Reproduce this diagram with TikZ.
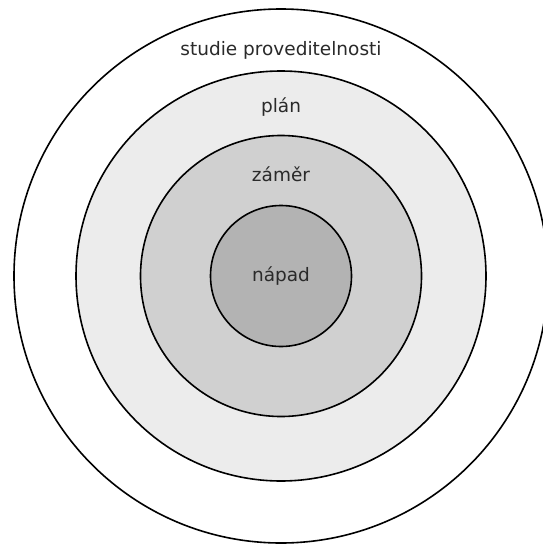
\documentclass[tikz,border=0pt]{standalone}
\usepackage{fontspec}
\setmainfont{DejaVu Sans}
\usetikzlibrary{positioning}

\definecolor{ringA}{HTML}{ECECEC}
\definecolor{ringB}{HTML}{D0D0D0}
\definecolor{ringC}{HTML}{B3B3B3}
\definecolor{labeltext}{HTML}{2A2A2A}

\begin{document}
\begin{tikzpicture}
[x=1pt,y=-1pt,on grid,
                    ring/.style={circle,draw=black,line width=1.6pt,inner sep=0pt},
                    lab/.style={text=labeltext,font=\fontsize{18.5}{22}\selectfont,inner sep=0pt}]

\useasboundingbox (0,0) rectangle (542,546);

\node[ring, fill=white, minimum size=534pt] (studie) at (281,276) {};
\node[ring, fill=ringA, minimum size=410pt] (plan) at (281,276) {};
\node[ring, fill=ringB, minimum size=281pt] (zamer) at (281,276) {};
\node[ring, fill=ringC, minimum size=141pt] (napad) at (281,276) {};

\node[lab, below=33pt of studie.north] (tstudie) {studie proveditelnosti};
\node[lab, below=27pt of plan.north] (tplan) {plán};
\node[lab, below=32pt of zamer.north] (tzamer) {záměr};
\node[lab] (tnapad) at (napad) {nápad};
\end{tikzpicture}
\end{document}
